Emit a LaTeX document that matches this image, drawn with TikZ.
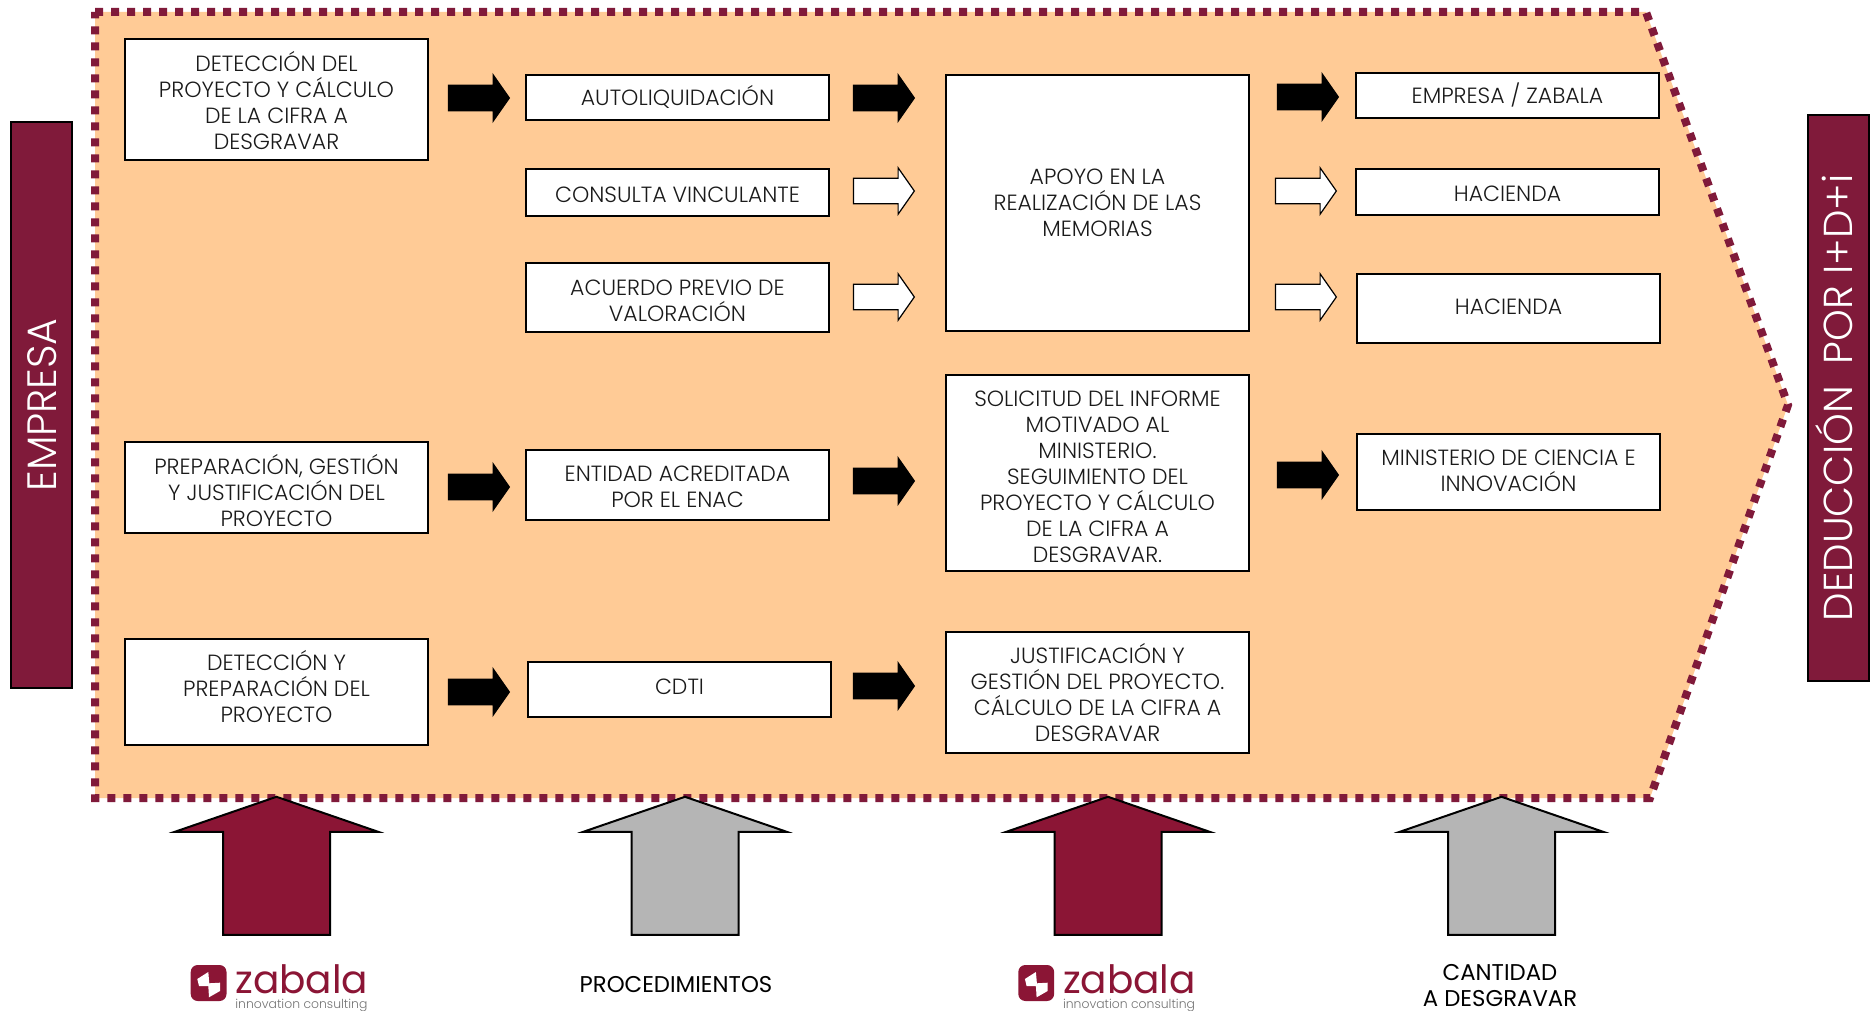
\documentclass[tikz,border=0pt]{standalone}
\usepackage{fontspec}
\setmainfont{Poppins Light}
\newfontfamily\medfont{Poppins}
\usetikzlibrary{shapes.arrows}
\definecolor{maroon}{HTML}{801A3A}
\definecolor{arrowmaroon}{HTML}{8B1535}
\definecolor{peach}{HTML}{FFCB96}
\definecolor{greyarrow}{HTML}{B5B5B5}
\definecolor{ink}{HTML}{1A1A1A}
\tikzset{
 x=0.5pt,y=-0.5pt,
 stepbox/.style={draw=black,line width=1pt,fill=white,inner sep=0pt,anchor=north west},
 steptext/.style={text=ink,align=center,inner sep=0pt,font=\fontsize{11}{13}\selectfont},
 blockarrow/.style={single arrow,draw=black,line width=.6pt,inner sep=0pt,text height=12.1pt,text depth=0pt,text width=0pt,minimum height=30.4pt,minimum width=22.6pt,single arrow head extend=5.25pt,single arrow tip angle=110,anchor=center},
 solidarrow/.style={blockarrow,fill=black},
 hollowarrow/.style={blockarrow,fill=white},
 bigarrow/.style={single arrow,rotate=90,draw=black,line width=1pt,inner sep=0pt,text height=52.5pt,text depth=0pt,text width=0pt,minimum height=69pt,minimum width=101pt,single arrow head extend=24.25pt,single arrow tip angle=142,anchor=center},
 sidebar/.style={draw=black,line width=.7pt,fill=maroon,inner sep=0pt},
 sidetext/.style={text=white,rotate=90,inner sep=0pt,font=\fontsize{20.5}{20.5}\selectfont},
 foot/.style={text=black,align=center,inner sep=0pt,font=\medfont\fontsize{11.4}{13}\selectfont},
}
% name, x0, y0, x1, y1, text shift (pt, + is up), text
\newcommand{\bx}[7]{\node[stepbox,minimum width=#4*.5pt-#2*.5pt,minimum height=#5*.5pt-#3*.5pt] (#1) at (#2-1,#3-1) {};
 \node[steptext] (#1t) at ([yshift=#6pt-.5pt]#1.center) {#7};}
\newcommand{\zlogo}[2]{%
 \begin{scope}[shift={(#1,0)}]
  \fill[arrowmaroon,rounded corners=3.5pt] (190.7,965) rectangle (226.5,1001);
  \fill[white] (197.3,979) -- (208.3,972) -- (209.3,983.3) -- (220,982.7) -- (220,991) -- (209,997.3) -- (208.3,986) -- (199,986) -- cycle;
  \node[text=arrowmaroon,inner sep=0pt,anchor=west,font=\medfont\fontsize{19.5}{20}\selectfont] (#2z) at (235,979.5) {zabala};
  \node[text=black!55,inner sep=0pt,anchor=west,font=\fontsize{6.2}{7}\selectfont] (#2i) at (235,1005) {innovation consulting};
 \end{scope}}
\begin{document}
\begin{tikzpicture}
\useasboundingbox (0,0) rectangle (1870,1011);
\clip (0,0) rectangle (1870,1011);
\fill[peach] (95,12) -- (1646,12) -- (1788,405) -- (1650,798) -- (95,798) -- cycle;
\draw[maroon,line width=4pt,dash pattern=on 4pt off 4pt] (95,12) -- (1646,12) -- (1788,405) -- (1650,798) -- (95,798) -- cycle;
% side bars
\node[sidebar,minimum width=30.5pt,minimum height=283pt] (left) at (41.5,405) {};
\node[sidetext] (lefttext) at (42,405) {EMPRESA};
\node[sidebar,minimum width=30.5pt,minimum height=283pt] (right) at (1838.5,398) {};
\node[sidetext,font=\fontsize{20.2}{20.2}\selectfont] (righttext) at (1834,398) {DEDUCCIÓN\ \ POR I+D+i};
% boxes
\bx{a}{125}{39}{428}{160}{0}{DETECCIÓN DEL\\PROYECTO Y CÁLCULO\\DE LA CIFRA A\\DESGRAVAR}
\bx{b}{526}{75}{829}{120}{.6}{AUTOLIQUIDACIÓN}
\bx{c}{526}{169}{829}{216}{-.6}{CONSULTA VINCULANTE}
\bx{d}{526}{263}{829}{332}{-1.2}{ACUERDO PREVIO DE\\VALORACIÓN}
\bx{e}{946}{75}{1249}{331}{.6}{APOYO EN LA\\REALIZACIÓN DE LAS\\MEMORIAS}
\bx{f}{1356}{73}{1659}{118}{.6}{EMPRESA / ZABALA}
\bx{g}{1356}{169}{1659}{215}{-.6}{HACIENDA}
\bx{h}{1357}{274}{1660}{343}{1.2}{HACIENDA}
\bx{i}{125}{442}{428}{533}{-1.2}{PREPARACIÓN, GESTIÓN\\Y JUSTIFICACIÓN DEL\\PROYECTO}
\bx{j}{526}{450}{829}{520}{-.6}{ENTIDAD ACREDITADA\\POR EL ENAC}
\bx{k}{946}{375}{1249}{571}{-1.2}{SOLICITUD DEL INFORME\\MOTIVADO AL\\MINISTERIO.\\SEGUIMIENTO DEL\\PROYECTO Y CÁLCULO\\DE LA CIFRA A\\DESGRAVAR.}
\bx{l}{1357}{434}{1660}{510}{1.2}{MINISTERIO DE CIENCIA E\\INNOVACIÓN}
\bx{m}{125}{639}{428}{745}{3}{DETECCIÓN Y\\PREPARACIÓN DEL\\PROYECTO}
\bx{n}{528}{662}{831}{717}{1.8}{CDTI}
\bx{o}{946}{632}{1249}{753}{.6}{JUSTIFICACIÓN Y\\GESTIÓN DEL PROYECTO.\\CÁLCULO DE LA CIFRA A\\DESGRAVAR}
% small arrows
\node[solidarrow] (a1) at (474.5,98) {};
\node[solidarrow] (a2) at (879.5,98) {};
\node[hollowarrow] (a3) at (879.5,191) {};
\node[hollowarrow] (a4) at (879.5,297) {};
\node[solidarrow] (a5) at (1303.5,97) {};
\node[hollowarrow] (a6) at (1301.5,191) {};
\node[hollowarrow] (a7) at (1301.5,297) {};
\node[solidarrow] (a8) at (474.5,487) {};
\node[solidarrow] (a9) at (879.5,481) {};
\node[solidarrow] (a10) at (1303.5,475) {};
\node[solidarrow] (a11) at (474.5,692) {};
\node[solidarrow] (a12) at (879.5,686) {};
% big arrows
\node[bigarrow,fill=arrowmaroon] (u1) at (276.5,875) {};
\node[bigarrow,fill=greyarrow] (u2) at (685,875) {};
\node[bigarrow,fill=arrowmaroon] (u3) at (1108,875) {};
\node[bigarrow,fill=greyarrow] (u4) at (1501.5,875) {};
% footer
\zlogo{0}{p}
\zlogo{827.6}{q}
\node[foot] (proc) at (676,985) {PROCEDIMIENTOS};
\node[foot,anchor=north] (cant) at (1500,964) {CANTIDAD\\A DESGRAVAR};
\end{tikzpicture}
\end{document}
